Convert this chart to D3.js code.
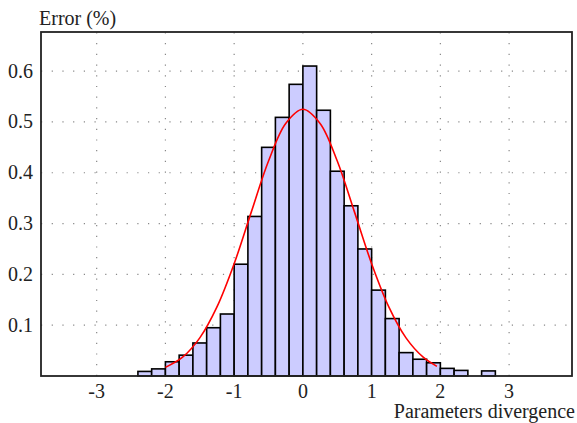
<!DOCTYPE html>
<html>
<head>
<meta charset="utf-8">
<script src="https://cdn.jsdelivr.net/npm/d3@7"></script>
<style>
	body { margin: 0; background: #fff; }
	text { font-family: 'Liberation Serif', 'Times New Roman', serif; fill: #222; }
</style>
</head>
<body>
<script>
// histogram bins (left edge of each bin, width 0.2) and heights
const binStarts = [-2.4, -2.2, -2.0, -1.8, -1.6, -1.4, -1.2, -1.0, -0.8, -0.6, -0.4, -0.2,
	0.0, 0.2, 0.4, 0.6, 0.8, 1.0, 1.2, 1.4, 1.6, 1.8, 2.0, 2.2, 2.4, 2.6];
const binHeights = [0.009, 0.014, 0.028, 0.041, 0.065, 0.095, 0.122, 0.22, 0.314, 0.45, 0.509, 0.574,
	0.61, 0.523, 0.403, 0.335, 0.25, 0.169, 0.113, 0.046, 0.033, 0.026, 0.015, 0.011, 0, 0.010];
const binWidth = 0.2;

// fitted curve, points
const curveX = [-2.0, -1.75, -1.5, -1.25, -1.0, -0.75, -0.5, -0.25, 0.0, 0.25, 0.5, 0.75, 1.0, 1.25, 1.5, 1.75, 1.95];
const curveY = [0.017, 0.037, 0.075, 0.136, 0.221, 0.323, 0.423, 0.497, 0.525, 0.497, 0.423, 0.323, 0.221, 0.136, 0.075, 0.037, 0.019];

const xTicks = [-3, -2, -1, 0, 1, 2, 3];
const yTicks = [0.1, 0.2, 0.3, 0.4, 0.5, 0.6];
const xLabel = 'Parameters divergence';
const yLabel = 'Error (%)';

const width = 577;
const height = 423;
const margin = {left: 41, top: 32, right: 5, bottom: 47};

const svg = d3.select('body').append('svg').attr('width', width).attr('height', height);

const x = d3.scaleLinear().domain([-3.81, 3.915]).range([margin.left, width - margin.right]);
const y = d3.scaleLinear().domain([0, 0.677]).range([height - margin.bottom, margin.top]);

// dotted grid
svg.append('g')
	.selectAll('line')
	.data(xTicks)
	.enter()
	.append('line')
	.attr('x1', (d) => x(d))
	.attr('x2', (d) => x(d))
	.attr('y1', y.range()[0])
	.attr('y2', y.range()[1])
	.attr('stroke', '#888')
	.attr('stroke-width', 1.2)
	.attr('stroke-dasharray', '1.2,9.5');

svg.append('g')
	.selectAll('line')
	.data(yTicks)
	.enter()
	.append('line')
	.attr('x1', x.range()[0])
	.attr('x2', x.range()[1])
	.attr('y1', (d) => y(d))
	.attr('y2', (d) => y(d))
	.attr('stroke', '#888')
	.attr('stroke-width', 1.2)
	.attr('stroke-dasharray', '1.2,9.5');

// bars
svg.append('g')
	.selectAll('rect')
	.data(binStarts.map((s, i) => ({start: s, value: binHeights[i]})).filter((d) => d.value > 0))
	.enter()
	.append('rect')
	.attr('x', (d) => x(d.start))
	.attr('width', (d) => x(d.start + binWidth) - x(d.start))
	.attr('y', (d) => y(d.value))
	.attr('height', (d) => y(0) - y(d.value))
	.attr('fill', '#ccccff')
	.attr('stroke', '#000')
	.attr('stroke-width', 1.6);

// fitted curve
const line = d3.line()
	.x((d) => x(d[0]))
	.y((d) => y(d[1]))
	.curve(d3.curveCatmullRom);

svg.append('path')
	.datum(curveX.map((v, i) => [v, curveY[i]]))
	.attr('d', line)
	.attr('fill', 'none')
	.attr('stroke', '#ff0000')
	.attr('stroke-width', 1.6);

// frame
svg.append('rect')
	.attr('x', x.range()[0])
	.attr('y', y.range()[1])
	.attr('width', x.range()[1] - x.range()[0])
	.attr('height', y.range()[0] - y.range()[1])
	.attr('fill', 'none')
	.attr('stroke', '#222')
	.attr('stroke-width', 1.8);

// tick labels
svg.append('g')
	.selectAll('text')
	.data(xTicks)
	.enter()
	.append('text')
	.attr('x', (d) => x(d))
	.attr('y', 398)
	.attr('text-anchor', 'middle')
	.style('font-size', '20px')
	.text((d) => d);

svg.append('g')
	.selectAll('text')
	.data(yTicks)
	.enter()
	.append('text')
	.attr('x', 33)
	.attr('y', (d) => y(d) + 6.5)
	.attr('text-anchor', 'end')
	.style('font-size', '20px')
	.text((d) => d.toFixed(1));

svg.append('text')
	.attr('x', 39)
	.attr('y', 25)
	.style('font-size', '20px')
	.text(yLabel);

svg.append('text')
	.attr('x', 575)
	.attr('y', 418)
	.attr('text-anchor', 'end')
	.style('font-size', '20px')
	.text(xLabel);
</script>
</body>
</html>
